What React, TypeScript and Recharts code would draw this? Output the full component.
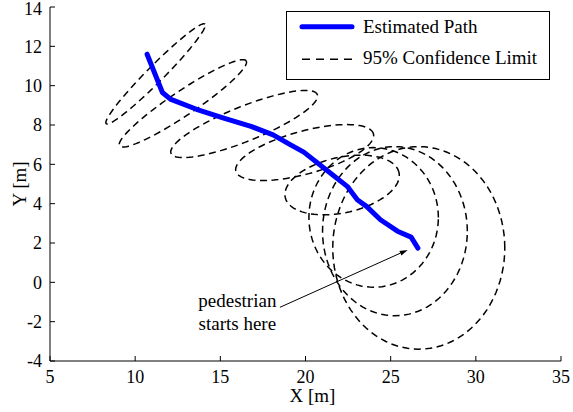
import React from 'react';
import {
  ComposedChart,
  Line,
  XAxis,
  YAxis,
  ReferenceLine,
  ReferenceDot,
} from 'recharts';

// estimated path (end point first, start point last)
const pathX = [10.7, 11.6, 12.1, 13.6, 15.2, 16.8, 18.1, 19.1, 19.9, 21.1, 22.45, 23.04, 23.6, 24.4, 25.4, 26.2, 26.6];
const pathY = [11.6, 9.65, 9.3, 8.8, 8.35, 7.93, 7.5, 7.0, 6.62, 5.8, 4.88, 4.2, 3.85, 3.18, 2.6, 2.3, 1.74];

// 95% confidence ellipses: centre, semi-axes and tilt (deg)
const ellipseCx = [11.2, 12.8, 16.4, 19.95, 22.15, 24.0, 25.25, 26.65];
const ellipseCy = [10.6, 9.1, 8.05, 6.6, 4.95, 3.3, 2.6, 1.75];
const ellipseA = [3.85, 4.3, 4.55, 4.15, 3.4, 3.8, 4.25, 5.05];
const ellipseB = [0.45, 0.65, 0.9, 1.1, 1.42, 3.55, 4.3, 5.15];
const ellipseTilt = [41, 30, 19, 13, 10, 0, 0, 0];

const xTicks = [5, 10, 15, 20, 25, 30, 35];
const yTicks = [-4, -2, 0, 2, 4, 6, 8, 10, 12, 14];

const arrowFrom = { x: 18.5, y: -1.27 };
const arrowTo = { x: 26.0, y: 1.65 };
const noteX = 16.0;
const noteY = [-1.25, -2.4];
const noteLines = ['pedestrian', 'starts here'];

const FONT = "'Liberation Serif', 'Times New Roman', serif";
const serif = { fontFamily: FONT };

const pathData = pathX.map((x, i) => ({ x, y: pathY[i] }));

// outline of one ellipse in data units
const ellipseData = (i: number) => {
  const th = (ellipseTilt[i] * Math.PI) / 180;
  const pts: { x: number; y: number }[] = [];
  for (let k = 0; k <= 96; k++) {
    const t = (k / 96) * Math.PI * 2;
    const u = ellipseA[i] * Math.cos(t);
    const v = ellipseB[i] * Math.sin(t);
    pts.push({
      x: ellipseCx[i] + u * Math.cos(th) - v * Math.sin(th),
      y: ellipseCy[i] + u * Math.sin(th) + v * Math.cos(th),
    });
  }
  return pts;
};

const Arrow = (p: any) => {
  const { x1, y1, x2, y2 } = p;
  const ang = Math.atan2(y2 - y1, x2 - x1);
  const len = 8;
  const w = 2.5;
  const bx = x2 - len * Math.cos(ang);
  const by = y2 - len * Math.sin(ang);
  const nx = -Math.sin(ang) * w;
  const ny = Math.cos(ang) * w;
  return (
    <g>
      <line x1={x1} y1={y1} x2={bx} y2={by} stroke="#000" strokeWidth={1} />
      <path d={`M${x2},${y2}L${bx + nx},${by + ny}L${bx - nx},${by - ny}Z`} fill="#000" />
    </g>
  );
};

const XTick = (p: any) => (
  <text x={p.x} y={p.y} dy="0.71em" textAnchor="middle" fontSize={18} fill="#000" style={serif}>
    {p.payload.value}
  </text>
);

const YTick = (p: any) => (
  <text x={p.x} y={p.y} dy="0.35em" textAnchor="end" fontSize={18} fill="#000" style={serif}>
    {p.payload.value}
  </text>
);

const LegendBox = () => (
  <svg width={264} height={69} style={{ display: 'block' }}>
    <rect x={0.5} y={0.5} width={263} height={68} fill="#fff" stroke="#000" />
    <line x1={16} x2={66} y1={15.7} y2={15.7} stroke="#0000ff" strokeWidth={5} strokeLinecap="round" />
    <text x={77} y={22.3} fontSize={19} fill="#000" style={serif}>Estimated Path</text>
    <line x1={16} x2={66} y1={48.3} y2={48.3} stroke="#000" strokeWidth={1.5} strokeDasharray="8 6" />
    <text x={77} y={53} fontSize={19} fill="#000" style={serif}>95% Confidence Limit</text>
  </svg>
);

export default function App() {
  return (
    <div style={{ position: 'absolute', left: 0, top: 0, background: '#fff', fontFamily: FONT }}>
      <ComposedChart width={573} height={412} margin={{ top: 7, right: 12, bottom: 11, left: 0 }}>
        <XAxis
          type="number"
          dataKey="x"
          domain={[5, 35]}
          ticks={xTicks}
          allowDataOverflow
          height={40}
          tickSize={-5}
          tickMargin={14}
          tick={<XTick />}
          stroke="#000"
          label={{ value: 'X [m]', position: 'insideBottom', offset: -1, dx: 7, style: { fontFamily: FONT, fontSize: 19, fill: '#000' } }}
        />
        <XAxis
          xAxisId="top"
          orientation="top"
          type="number"
          domain={[5, 35]}
          ticks={xTicks}
          allowDataOverflow
          height={0}
          tickSize={-5}
          tickFormatter={() => ''}
          stroke="#000"
        />
        <YAxis
          type="number"
          domain={[-4, 14]}
          ticks={yTicks}
          allowDataOverflow
          width={50}
          tickSize={-5}
          tickMargin={13}
          tick={<YTick />}
          stroke="#000"
          label={{ value: 'Y [m]', angle: -90, position: 'insideLeft', offset: 19, style: { textAnchor: 'middle', fontFamily: FONT, fontSize: 19, fill: '#000' } }}
        />
        <YAxis
          yAxisId="right"
          orientation="right"
          type="number"
          domain={[-4, 14]}
          ticks={yTicks}
          allowDataOverflow
          width={0}
          tickSize={-5}
          tickFormatter={() => ''}
          stroke="#000"
        />
        {ellipseCx.map((_, i) => (
          <Line
            key={`e${i}`}
            data={ellipseData(i)}
            dataKey="y"
            type="linear"
            stroke="#000"
            strokeWidth={1.5}
            strokeDasharray="7 4.5"
            dot={false}
            activeDot={false}
            isAnimationActive={false}
          />
        ))}
        <Line
          data={pathData}
          dataKey="y"
          type="linear"
          stroke="#0000ff"
          strokeWidth={5}
          strokeLinejoin="round"
          strokeLinecap="round"
          dot={false}
          activeDot={false}
          isAnimationActive={false}
        />
        <ReferenceLine segment={[arrowFrom, arrowTo]} shape={(p: any) => <Arrow {...p} />} />
        {noteLines.map((t, i) => (
          <ReferenceDot
            key={t}
            x={noteX}
            y={noteY[i]}
            r={0}
            shape={(p: any) => (
              <text x={p.cx} y={p.cy} textAnchor="middle" fontSize={19} fill="#000" style={serif}>
                {t}
              </text>
            )}
          />
        ))}
      </ComposedChart>
      <div style={{ position: 'absolute', left: 286, top: 11 }}>
        <LegendBox />
      </div>
    </div>
  );
}
